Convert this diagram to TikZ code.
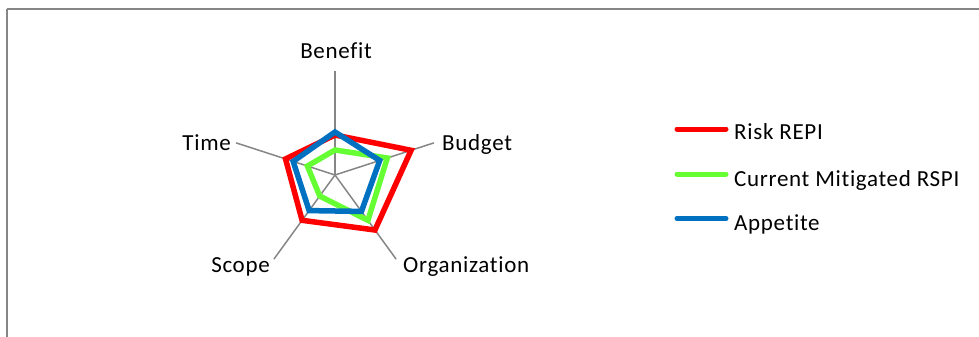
\documentclass[tikz,border=0pt]{standalone}
\usepackage{fontspec}
\setmainfont[LetterSpace=3, Ligatures={NoCommon}, RawFeature={-liga;-dlig}]{Carlito}
\usetikzlibrary{calc}
\definecolor{riskred}{HTML}{FF0000}
\definecolor{mitgreen}{HTML}{66FF33}
\definecolor{appblue}{HTML}{0070C0}
\definecolor{axisgray}{HTML}{868686}
\tikzset{
  spoke/.style={draw=axisgray, line width=1.5pt},
  series/.style={line width=5.5pt, line join=miter},
  lbl/.style={inner sep=0pt, anchor=base, font=\fontsize{23}{27}\selectfont},
  legline/.style={line width=5pt, line cap=round},
}
\begin{document}
\begin{tikzpicture}[x=1pt,y=1pt]
\useasboundingbox (0,-337) rectangle (979,0);
\draw[axisgray, line width=2pt] (7,-9) -- (7,-360) (7,-9) -- (1000,-9);
\coordinate (c) at (335,-175);
% spokes
\foreach \a/\n in {90/be,18/bu,-54/or,-126/sc,162/ti}{
  \coordinate (\n) at ($(c)+(\a:104)$);
  \draw[spoke] (c) -- (\n);
}
% series
\newcommand\radarpoly[6]{%
  \coordinate (#1a) at ($(c)+(90:#2)$);
  \coordinate (#1b) at ($(c)+(18:#3)$);
  \coordinate (#1c) at ($(c)+(-54:#4)$);
  \coordinate (#1d) at ($(c)+(-126:#5)$);
  \coordinate (#1e) at ($(c)+(162:#6)$);
}
\radarpoly{r}{40}{80}{68}{56}{52}
\radarpoly{g}{25}{55}{56}{26}{29}
\radarpoly{b}{43}{47}{45}{44}{44}
\draw[series, riskred] (ra) -- (rb) -- (rc) -- (rd) -- (re) -- cycle;
\draw[series, mitgreen] (ga) -- (gb) -- (gc) -- (gd) -- (ge) -- cycle;
\draw[series, appblue] (ba) -- (bb) -- (bc) -- (bd) -- (be) -- cycle;
% axis labels
\node[lbl] (lbe) at (336,-59) {Benefit};
\node[lbl, anchor=base east] (lti) at (231,-150.5) {Time};
\node[lbl, anchor=base west] (lbu) at (442,-150.5) {Budget};
\node[lbl, anchor=base east] (lsc) at (270,-272.5) {Scope};
\node[lbl, anchor=base west] (lor) at (403,-272.5) {Organization};
% legend
\coordinate (l1a) at (677,-129); \coordinate (l1b) at (726,-129);
\coordinate (l2a) at (677,-174); \coordinate (l2b) at (726,-174);
\coordinate (l3a) at (677,-218.5); \coordinate (l3b) at (726,-218.5);
\draw[legline, riskred] (l1a) -- (l1b);
\draw[legline, mitgreen] (l2a) -- (l2b);
\draw[legline, appblue] (l3a) -- (l3b);
\node[lbl, anchor=base west] (t1) at (734,-139) {Risk REPI};
\node[lbl, anchor=base west] (t2) at (734,-186.5) {Current Mitigated RSPI};
\node[lbl, anchor=base west] (t3) at (734,-230) {Appetite};
\end{tikzpicture}
\end{document}
